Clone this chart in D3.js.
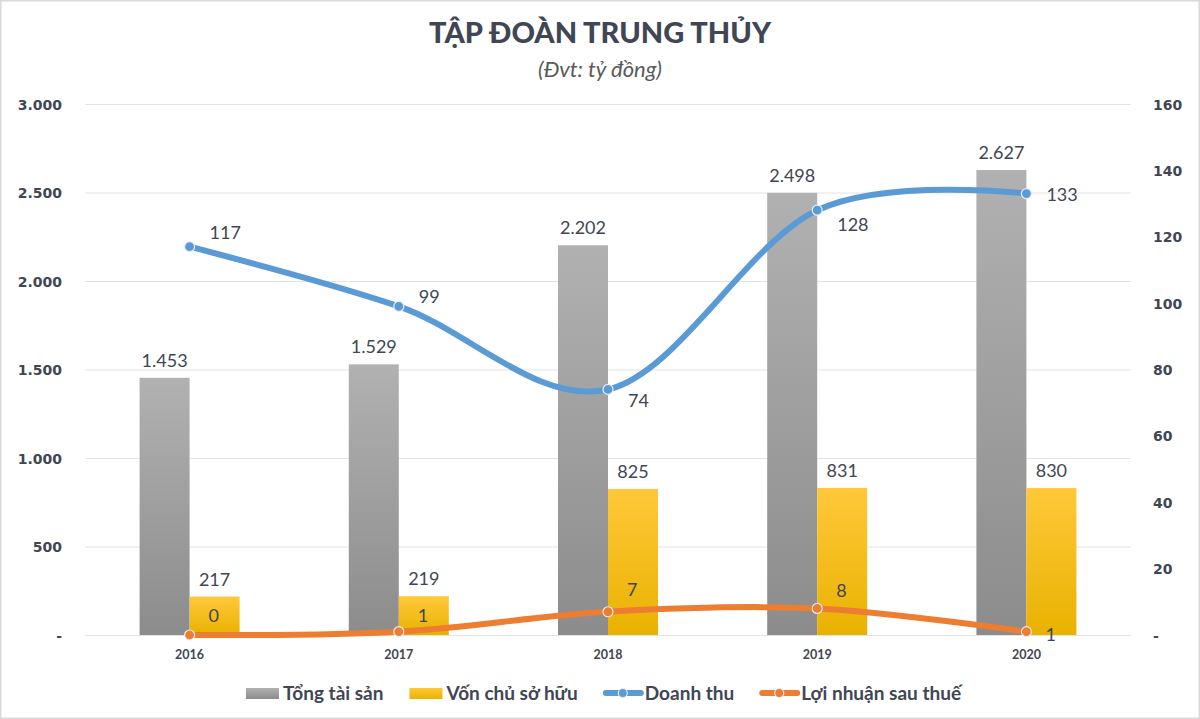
<!DOCTYPE html>
<html><head><meta charset="utf-8">
<script src="https://cdn.jsdelivr.net/npm/d3@7"></script>
<style>
html,body{margin:0;padding:0;background:#fff;}
svg{display:block;}
</style></head>
<body>
<svg id="chart" width="1200" height="719"></svg>
<script>
// ---- data ----
const years = ["2016","2017","2018","2019","2020"];
const tongTaiSan = [1453, 1529, 2202, 2498, 2627];
const vonChuSoHuu = [217, 219, 825, 831, 830];
const doanhThu = [117, 99, 74, 128, 133];
const loiNhuan = [0, 1, 7, 8, 1];
const leftTicks = [0, 500, 1000, 1500, 2000, 2500, 3000];
const rightTicks = [0, 20, 40, 60, 80, 100, 120, 140, 160];
const seriesNames = ["Tổng tài sản", "Vốn chủ sở hữu", "Doanh thu", "Lợi nhuận sau thuế"];
const titleText = "TẬP ĐOÀN TRUNG THỦY";
const subtitleText = "(Đvt: tỷ đồng)";

// ---- label placement (style) ----
const dtLabelDy = [-14, -10, 11, 14, 1];
const lnLabelDy = [-19, -16, -22, -18, 3];

const W = 1200, H = 719;
const svg = d3.select("#chart");
const defs = svg.append("defs");

const gGray = defs.append("linearGradient").attr("id","gGray").attr("x1",0).attr("y1",0).attr("x2",0).attr("y2",1);
gGray.append("stop").attr("offset","0%").attr("stop-color","#b1b1b1");
gGray.append("stop").attr("offset","100%").attr("stop-color","#8c8c8c");
const gYel = defs.append("linearGradient").attr("id","gYel").attr("x1",0).attr("y1",0).attr("x2",0).attr("y2",1);
gYel.append("stop").attr("offset","0%").attr("stop-color","#ffc83a");
gYel.append("stop").attr("offset","100%").attr("stop-color","#e9b200");

// background & border
svg.append("rect").attr("x",0.5).attr("y",0.5).attr("width",W-1).attr("height",H-1)
  .attr("fill","#fff").attr("stroke","#d9d9d9").attr("stroke-width",2);

const x = d3.scaleBand().domain(years).range([85, 1131]).padding(0);
const yL = d3.scaleLinear().domain([0, 3000]).range([635, 104]);
const yR = d3.scaleLinear().domain([0, 160]).range([635, 104]);
const cx = d => x(d) + x.bandwidth()/2;
const barW = 50;

const fmtL = d => d === 0 ? "-" : d3.format(",")(d).replace(/,/g, ".");
const fmtR = d => d === 0 ? "-" : String(d);

// gridlines
svg.append("g").selectAll("line").data(leftTicks).join("line")
  .attr("x1", 85).attr("x2", 1131)
  .attr("y1", d => yL(d) + 0.5).attr("y2", d => yL(d) + 0.5)
  .attr("stroke", "#e3e3e3").attr("stroke-width", 1.2);

// left axis
const axL = svg.append("g").attr("transform","translate(62,0)")
  .call(d3.axisLeft(yL).tickValues(leftTicks).tickFormat(fmtL).tickSize(0).tickPadding(0));
axL.select(".domain").remove();
axL.selectAll("text").attr("font-family","DejaVu Sans").attr("font-weight","bold")
  .attr("font-size",14).attr("fill","#404653").attr("dy","0.36em");

// right axis
const axR = svg.append("g").attr("transform","translate(1153,0)")
  .call(d3.axisRight(yR).tickValues(rightTicks).tickFormat(fmtR).tickSize(0).tickPadding(0));
axR.select(".domain").remove();
axR.selectAll("text").attr("font-family","DejaVu Sans").attr("font-weight","bold")
  .attr("font-size",14).attr("fill","#404653").attr("dy","0.36em");

// x axis
const axX = svg.append("g").attr("transform","translate(0,650)")
  .call(d3.axisBottom(x).tickSize(0).tickPadding(0));
axX.select(".domain").remove();
axX.selectAll("text").attr("font-family","Lato").attr("font-weight","bold")
  .attr("font-size",12.5).attr("fill","#404653").attr("dy","0.71em");

// bars
svg.append("g").selectAll("rect").data(years).join("rect")
  .attr("x", (d) => cx(d) - barW).attr("width", barW)
  .attr("y", (d,i) => yL(tongTaiSan[i])).attr("height", (d,i) => yL(0) - yL(tongTaiSan[i]))
  .attr("fill", "url(#gGray)");
svg.append("g").selectAll("rect").data(years).join("rect")
  .attr("x", (d) => cx(d)).attr("width", barW)
  .attr("y", (d,i) => yL(vonChuSoHuu[i])).attr("height", (d,i) => yL(0) - yL(vonChuSoHuu[i]))
  .attr("fill", "url(#gYel)");

const labelFont = g => g.attr("font-family","Lato").attr("font-size",18).attr("fill","#404653");

// bar labels
svg.append("g").selectAll("text").data(years).join("text")
  .attr("x", d => cx(d) - barW/2).attr("y", (d,i) => yL(tongTaiSan[i]) - 11)
  .attr("text-anchor","middle").text((d,i) => fmtL(tongTaiSan[i])).call(labelFont);
svg.append("g").selectAll("text").data(years).join("text")
  .attr("x", d => cx(d) + barW/2).attr("y", (d,i) => yL(vonChuSoHuu[i]) - 11)
  .attr("text-anchor","middle").text((d,i) => fmtL(vonChuSoHuu[i])).call(labelFont);

// lines
const curve = d3.curveCardinal.tension(0);
const lineDT = d3.line().x((d,i) => cx(years[i])).y(d => yR(d)).curve(curve);
const blue = "#5b9bd5", orange = "#ed7d31";
svg.append("path").attr("d", lineDT(doanhThu)).attr("fill","none")
  .attr("stroke", blue).attr("stroke-width", 6).attr("stroke-linecap","round");
svg.append("path").attr("d", lineDT(loiNhuan)).attr("fill","none")
  .attr("stroke", orange).attr("stroke-width", 6).attr("stroke-linecap","round");

function markers(vals, color) {
  svg.append("g").selectAll("circle").data(vals).join("circle")
    .attr("cx", (d,i) => cx(years[i])).attr("cy", d => yR(d)).attr("r", 5)
    .attr("fill", color).attr("stroke", "#e8eef6").attr("stroke-width", 1.2);
}
markers(doanhThu, blue);
markers(loiNhuan, orange);

// line labels
svg.append("g").selectAll("text").data(doanhThu).join("text")
  .attr("x", (d,i) => cx(years[i]) + 20).attr("y", (d,i) => yR(d) + dtLabelDy[i])
  .attr("dy","0.36em").text(d => d).call(labelFont);
svg.append("g").selectAll("text").data(loiNhuan).join("text")
  .attr("x", (d,i) => cx(years[i]) + 19).attr("y", (d,i) => yR(d) + lnLabelDy[i])
  .attr("dy","0.36em").text(d => d).call(labelFont);

// title
svg.append("text").attr("x", 600).attr("y", 43).attr("text-anchor","middle")
  .attr("font-family","Lato").attr("font-weight","900").attr("font-size",29)
  .attr("fill","#404654").text(titleText);
svg.append("text").attr("x", 600).attr("y", 77).attr("text-anchor","middle")
  .attr("font-family","Lato").attr("font-style","italic").attr("font-size",22)
  .attr("fill","#5a5a5a").text(subtitleText);

// legend
const legend = svg.append("g");
const ly = 693;
let lx = 0;
seriesNames.forEach((name, i) => {
  const g = legend.append("g").attr("transform", `translate(${lx},0)`);
  if (i < 2) {
    g.append("rect").attr("x",0).attr("y",ly-5).attr("width",33).attr("height",11)
      .attr("fill", i === 0 ? "url(#gGray)" : "url(#gYel)");
  } else {
    const c = i === 2 ? blue : orange;
    g.append("line").attr("x1",2).attr("x2",37).attr("y1",ly).attr("y2",ly)
      .attr("stroke", c).attr("stroke-width",6).attr("stroke-linecap","round");
    g.append("circle").attr("cx",19).attr("cy",ly).attr("r",4.5)
      .attr("fill", c).attr("stroke","#e8eef6").attr("stroke-width",1.2);
  }
  const sw = i < 2 ? 35 : 39;
  const t = g.append("text").attr("x", sw + 2).attr("y", ly).attr("dy","0.36em")
    .attr("font-family","Lato").attr("font-weight","bold").attr("font-size",19)
    .attr("fill","#404654").text(name);
  lx += sw + 2 + t.node().getComputedTextLength() + 26;
});
const total = lx - 26;
legend.attr("transform", `translate(${250 + (707 - total)/2},0)`);
</script>
</body></html>
